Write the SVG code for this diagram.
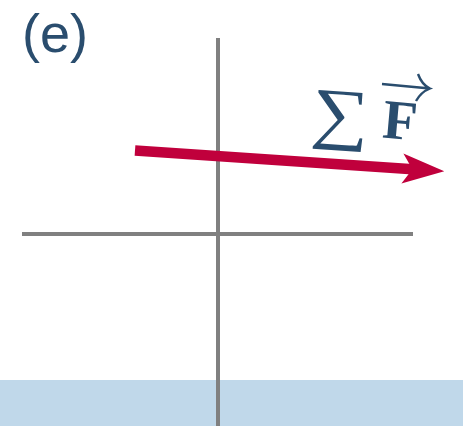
<svg xmlns="http://www.w3.org/2000/svg" width="463" height="426" viewBox="0 0 463 426">
<style>
.axis{stroke:#808080;stroke-width:4;fill:none}
.lbl{fill:#2a4d6e}
.serif{font-family:"Liberation Serif","Times New Roman",serif}
</style>
<rect width="463" height="426" fill="#ffffff"/>
<rect id="ground" x="0" y="380" width="463" height="46" fill="#c0d8ea"/>
<g id="axes">
<line class="axis" x1="218" y1="38" x2="218" y2="426"/>
<line class="axis" x1="22" y1="234" x2="413" y2="234"/>
</g>
<text id="panel-label" class="lbl" x="22" y="52" font-family="Liberation Sans, Arial, sans-serif" font-size="54">(e)</text>
<g id="connectors">
<g id="force" transform="translate(135,150.5) rotate(3.85)">
<line x1="0" y1="0" x2="282" y2="0" stroke="#c0003c" stroke-width="10.5"/>
<path d="M268,-15 L310,0 L268,15 L278,0 Z" fill="#c0003c"/>
</g>
</g>
<g id="force-label" class="lbl">
<text class="serif" x="0" y="0" font-size="68" transform="rotate(4 338 120) translate(311 136) scale(1.2 1)">∑</text>
<text class="serif" x="383" y="139" font-size="56" font-weight="bold" transform="rotate(5 400 120)">F</text>
<path d="M382,84 L430,88.5 M418,74 Q422,85 430,88.5 Q421,92 416,101" fill="none" stroke="#2a4d6e" stroke-width="2.4"/>
</g>
</svg>
